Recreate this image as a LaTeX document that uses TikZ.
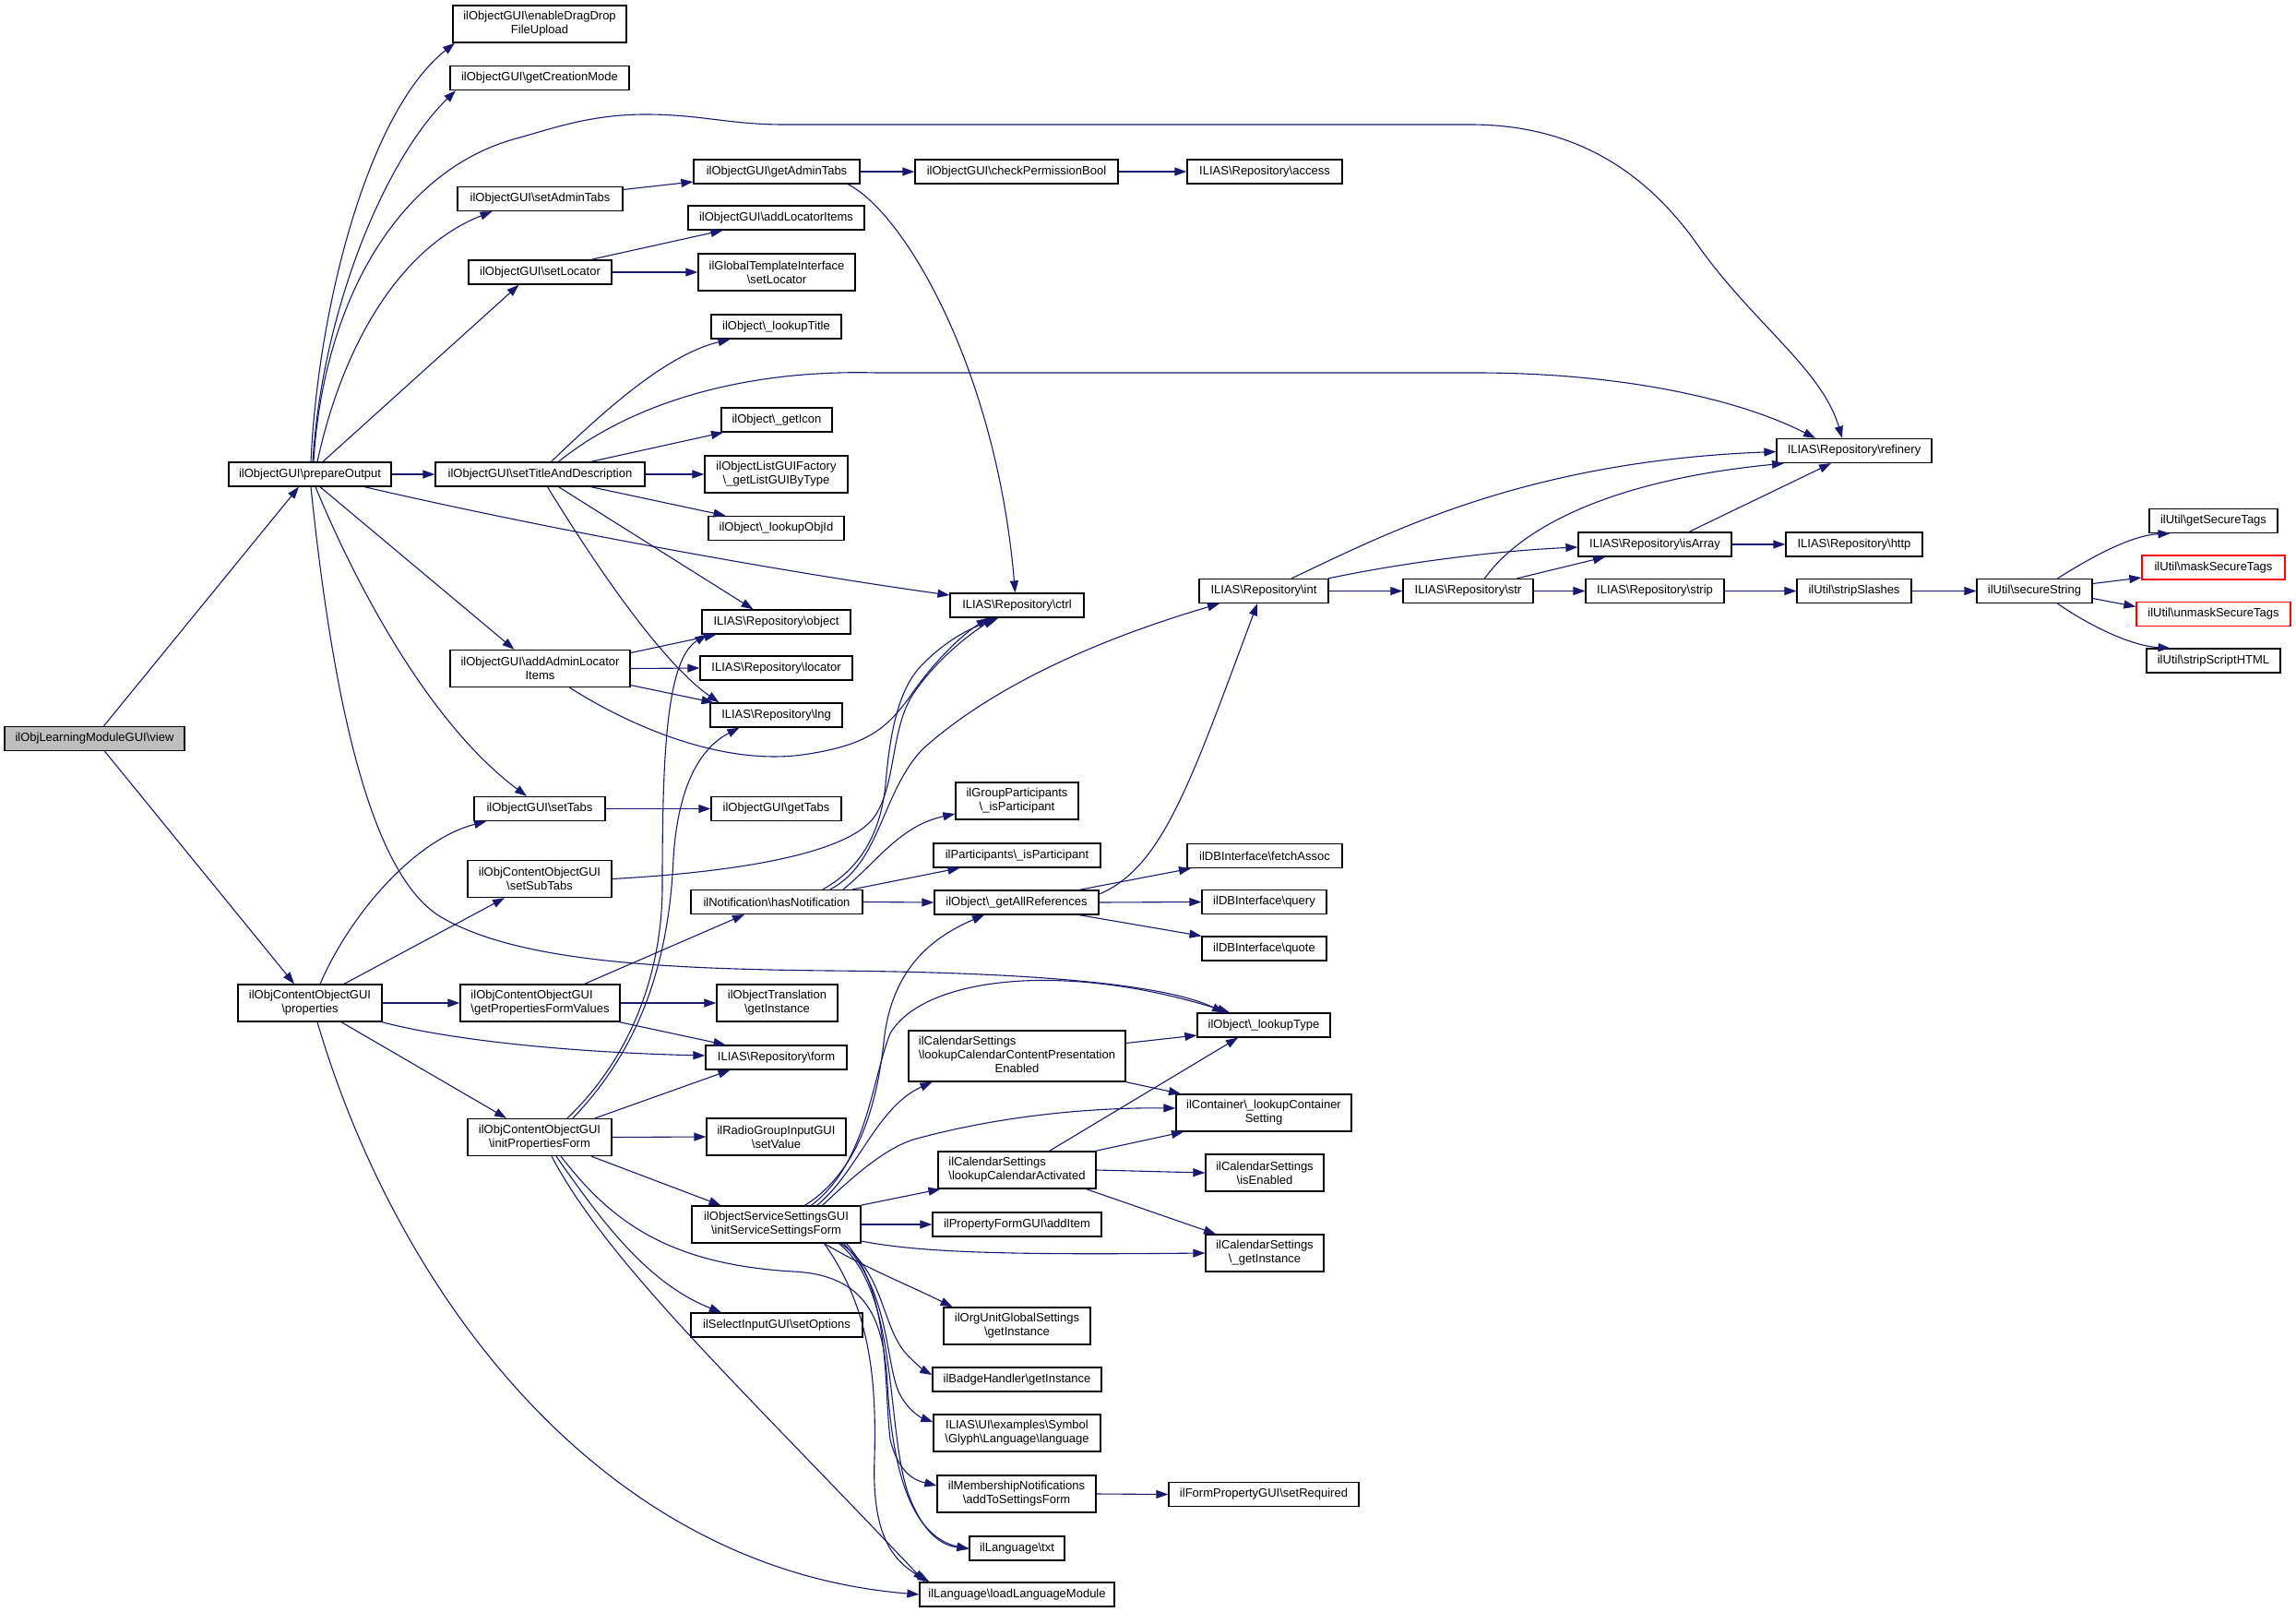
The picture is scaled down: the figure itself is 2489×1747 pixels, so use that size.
\documentclass[tikz,border=0pt]{standalone}
\usepackage{fontspec}
\setmainfont{Liberation Sans}
\usetikzlibrary{arrows.meta}
\definecolor{edgeblue}{HTML}{191970}
\definecolor{rootgray}{HTML}{BFBFBF}
\newcommand{\Bk}{\textbackslash{}}
\newcommand{\fnode}[7][]{\node[fbox,minimum width=#5pt,minimum height=#6pt,#1] (#2) at (#3,#4) {#7};}
\tikzset{
  fbox/.style={draw=black,line width=1.3pt,fill=white,inner xsep=3pt,inner ysep=1pt,align=center,font=\fontsize{13}{15}\selectfont},
  rootbox/.style={fill=rootgray},
  redbox/.style={draw=red},
  calls/.style={draw=edgeblue,line width=1.1pt,-{Triangle[length=13pt,width=9pt]}}
}
\begin{document}
\begin{tikzpicture}[x=1pt,y=-1pt]
\useasboundingbox (0,0) rectangle (2489,1747);
\fill[white] (0,0) rectangle (2489,1747);
% nodes
\fnode[rootbox]{view}{102.5}{800.5}{195}{26}{ilObjLearningModuleGUI\Bk view}
\fnode{prep}{336}{514}{176}{26}{ilObjectGUI\Bk prepareOutput}
\fnode{props}{336}{1087}{156}{40}{ilObjContentObjectGUI\\\Bk properties}
\fnode{dnd}{585}{26}{188}{40}{ilObjectGUI\Bk enableDragDrop\\FileUpload}
\fnode{gcm}{585}{84.5}{194}{26}{ilObjectGUI\Bk getCreationMode}
\fnode{sat}{585.5}{215.5}{179}{26}{ilObjectGUI\Bk setAdminTabs}
\fnode{sloc}{585.5}{295}{155}{26}{ilObjectGUI\Bk setLocator}
\fnode{std}{585.5}{514}{227}{26}{ilObjectGUI\Bk setTitleAndDescription}
\fnode{aali}{585.5}{724.5}{195}{40}{ilObjectGUI\Bk addAdminLocator\\Items}
\fnode{stabs}{585}{876.5}{142}{26}{ilObjectGUI\Bk setTabs}
\fnode{ssub}{585}{952.5}{156}{40}{ilObjContentObjectGUI\\\Bk setSubTabs}
\fnode[align=left]{gpfv}{585.5}{1087}{173}{40}{ilObjContentObjectGUI\\\Bk getPropertiesFormValues}
\fnode{ipf}{585}{1232.5}{156}{40}{ilObjContentObjectGUI\\\Bk initPropertiesForm}
\fnode{gat}{842}{186}{180}{26}{ilObjectGUI\Bk getAdminTabs}
\fnode{ali}{841.5}{236}{191}{26}{ilObjectGUI\Bk addLocatorItems}
\fnode{gtsl}{842}{295}{170}{40}{ilGlobalTemplateInterface\\\Bk setLocator}
\fnode{ltit}{841.5}{354}{141}{26}{ilObject\Bk\_lookupTitle}
\fnode{gicon}{842}{455}{120}{26}{ilObject\Bk\_getIcon}
\fnode{glgui}{841.5}{514}{155}{40}{ilObjectListGUIFactory\\\Bk\_getListGUIByType}
\fnode{loid}{841.5}{572.5}{147}{26}{ilObject\Bk\_lookupObjId}
\fnode{obj}{841.5}{674}{161}{26}{ILIAS\Bk Repository\Bk object}
\fnode{loc}{841.5}{724}{165}{26}{ILIAS\Bk Repository\Bk locator}
\fnode{lng}{841.5}{775}{143}{26}{ILIAS\Bk Repository\Bk lng}
\fnode{gtabs}{841.5}{876.5}{141}{26}{ilObjectGUI\Bk getTabs}
\fnode{hasn}{842}{977.5}{186}{26}{ilNotification\Bk hasNotification}
\fnode{otgi}{842.5}{1087}{131}{40}{ilObjectTranslation\\\Bk getInstance}
\fnode{form}{841.5}{1146}{153}{26}{ILIAS\Bk Repository\Bk form}
\fnode{rgsv}{841.5}{1232}{151}{40}{ilRadioGroupInputGUI\\\Bk setValue}
\fnode{issf}{841.5}{1327}{183}{40}{ilObjectServiceSettingsGUI\\\Bk initServiceSettingsForm}
\fnode{siso}{842}{1436}{186}{26}{ilSelectInputGUI\Bk setOptions}
\fnode{cpb}{1102}{186}{220}{26}{ilObjectGUI\Bk checkPermissionBool}
\fnode{ctrl}{1102.5}{656}{145}{26}{ILIAS\Bk Repository\Bk ctrl}
\fnode{gpip}{1102.5}{868}{133}{40}{ilGroupParticipants\\\Bk\_isParticipant}
\fnode{pip}{1102.5}{927}{181}{26}{ilParticipants\Bk\_isParticipant}
\fnode{gar}{1102}{978}{178}{26}{ilObject\Bk\_getAllReferences}
\fnode{lccp}{1102.5}{1144.5}{235}{55}{\begin{tabular}{@{}l@{}}ilCalendarSettings\\\Bk lookupCalendarContentPresentation\\\multicolumn{1}{@{}c@{}}{Enabled}\end{tabular}}
\fnode[align=left]{lca}{1102.5}{1268}{171}{40}{ilCalendarSettings\\\Bk lookupCalendarActivated}
\fnode{additem}{1102.5}{1327}{183}{26}{ilPropertyFormGUI\Bk addItem}
\fnode{ougs}{1102.5}{1437}{159}{40}{ilOrgUnitGlobalSettings\\\Bk getInstance}
\fnode{badge}{1102.5}{1495}{183}{26}{ilBadgeHandler\Bk getInstance}
\fnode{uiex}{1102.5}{1553}{181}{40}{ILIAS\Bk UI\Bk examples\Bk Symbol\\\Bk Glyph\Bk Language\Bk language}
\fnode{memb}{1102}{1619}{172}{40}{ilMembershipNotifications\\\Bk addToSettingsForm}
\fnode{txt}{1102.5}{1678}{103}{26}{ilLanguage\Bk txt}
\fnode{llm}{1102.5}{1728}{211}{26}{ilLanguage\Bk loadLanguageModule}
\fnode{acc}{1371}{186}{168}{26}{ILIAS\Bk Repository\Bk access}
\fnode{ref}{2010}{488.5}{168}{26}{ILIAS\Bk Repository\Bk refinery}
\fnode{int}{1370}{640.5}{140}{26}{ILIAS\Bk Repository\Bk int}
\fnode{fa}{1371}{927.5}{168}{26}{ilDBInterface\Bk fetchAssoc}
\fnode{query}{1370.5}{977.5}{135}{26}{ilDBInterface\Bk query}
\fnode{quote}{1370.5}{1028}{135}{26}{ilDBInterface\Bk quote}
\fnode{ltype}{1370}{1111}{144}{26}{ilObject\Bk\_lookupType}
\fnode{lcs}{1370}{1206}{190}{40}{ilContainer\Bk\_lookupContainer\\Setting}
\fnode{isen}{1371}{1271}{128}{40}{ilCalendarSettings\\\Bk isEnabled}
\fnode{csgi}{1371}{1358}{128}{40}{ilCalendarSettings\\\Bk\_getInstance}
\fnode{sreq}{1370}{1619.5}{206}{26}{ilFormPropertyGUI\Bk setRequired}
\fnode{isarr}{1794}{590}{166}{26}{ILIAS\Bk Repository\Bk isArray}
\fnode{http}{2010}{590}{148}{26}{ILIAS\Bk Repository\Bk http}
\fnode{str}{1591.5}{640.5}{141}{26}{ILIAS\Bk Repository\Bk str}
\fnode{strip}{1794}{640.5}{150}{26}{ILIAS\Bk Repository\Bk strip}
\fnode{sslash}{2010}{640.5}{124}{26}{ilUtil\Bk stripSlashes}
\fnode{sstr}{2205.5}{640.5}{125}{26}{ilUtil\Bk secureString}
\fnode{gst}{2399.5}{564.5}{139}{26}{ilUtil\Bk getSecureTags}
\fnode[redbox]{mst}{2399.5}{615}{155}{26}{ilUtil\Bk maskSecureTags}
\fnode[redbox]{umst}{2399.5}{665.5}{167}{26}{ilUtil\Bk unmaskSecureTags}
\fnode{ssh}{2399.5}{716}{145}{26}{ilUtil\Bk stripScriptHTML}
% ---------------- edges
\draw[calls] ([xshift=10]view.north) -- ([xshift=-12]prep.south);
\draw[calls] ([xshift=11]view.south) -- ([xshift=-17]props.north);
\draw[calls] ([xshift=1]prep.north) .. controls (345,330) and (400,120) .. ([xshift=-92]dnd.south);
\draw[calls] ([xshift=3]prep.north) .. controls (350,330) and (420,170) .. ([xshift=-91]gcm.south);
\draw[calls] ([xshift=4]prep.north) .. controls (350,330) and (430,185) .. (560,150) .. controls (600,139) and (640,124) .. (700,124) .. controls (760,124) and (790,135) .. (850,135) -- (1594,135) .. controls (1700,135) and (1780,180) .. (1840,265) .. controls (1900,350) and (1975,400) .. ([xshift=-13]ref.north);
\draw[calls] ([xshift=8]prep.north) .. controls (370,380) and (430,270) .. ([xshift=-52]sat.south);
\draw[calls] ([xshift=14]prep.north) -- ([xshift=-23]sloc.south);
\draw[calls] (prep.east) -- (std.west);
\draw[calls] ([xshift=59]prep.south) .. controls (600,575) and (850,620) .. ([yshift=11]ctrl.west);
\draw[calls] ([xshift=11]prep.south) -- ([xshift=-28]aali.north);
\draw[calls] ([xshift=6]prep.south) .. controls (380,620) and (460,780) .. ([xshift=-14]stabs.north);
\draw[calls] ([xshift=1]prep.south) .. controls (360,750) and (400,950) .. (480,995) .. controls (560,1040) and (700,1050) .. (900,1052) .. controls (1150,1054) and (1270,1070) .. ([xshift=-43]ltype.north);
\draw[calls] ([yshift=10]sat.east) -- ([yshift=-11]gat.west);
\draw[calls] (gat.east) -- (cpb.west);
\draw[calls] (cpb.east) -- (acc.west);
\draw[calls] ([xshift=77]gat.south) .. controls (980,230) and (1080,400) .. ([xshift=-2]ctrl.north);
\draw[calls] ([xshift=55]sloc.north) -- ([xshift=-58]ali.south);
\draw[calls] (sloc.east) -- (gtsl.west);
\draw[calls] ([xshift=12]std.north) .. controls (650,450) and (720,385) .. ([xshift=-50]ltit.south);
\draw[calls] ([xshift=20]std.north) .. controls (680,440) and (800,400) .. (950,404) -- (1600,404) .. controls (1750,404) and (1880,430) .. ([xshift=-42]ref.north);
\draw[calls] ([xshift=55]std.north) -- ([xshift=-58]gicon.south);
\draw[calls] (std.east) -- (glgui.west);
\draw[calls] ([xshift=55]std.south) -- ([xshift=-55]loid.north);
\draw[calls] ([xshift=20]std.south) -- ([xshift=-25]obj.north);
\draw[calls] ([xshift=8]std.south) .. controls (650,620) and (720,720) .. ([xshift=-62]lng.north);
\draw[calls] ([yshift=17]aali.east) -- ([xshift=-65]obj.south);
\draw[calls] (aali.east) -- (loc.west);
\draw[calls] ([yshift=-18]aali.east) -- ([xshift=-68]lng.north);
\draw[calls] ([xshift=32]aali.south) .. controls (680,785) and (780,830) .. (870,818) .. controls (940,808) and (960,790) .. (985,757) .. controls (1010,720) and (1040,690) .. ([xshift=-31]ctrl.south);
\draw[calls] (stabs.east) -- (gtabs.west);
\draw[calls] (ssub.east) .. controls (800,945) and (920,925) .. (948,885) .. controls (972,850) and (965,790) .. (990,752) .. controls (1015,715) and (1050,688) .. ([xshift=-24]ctrl.south);
\draw[calls] ([xshift=50]hasn.north) .. controls (935,940) and (955,900) .. (960,850) .. controls (965,790) and (975,745) .. (1000,720) .. controls (1030,690) and (1055,680) .. ([xshift=-20]ctrl.south);
\draw[calls] ([xshift=58]hasn.north) .. controls (955,935) and (955,860) .. (1000,812) .. controls (1080,740) and (1200,690) .. ([xshift=-48]int.south);
\draw[calls] ([xshift=72]hasn.north) .. controls (950,935) and (975,895) .. ([yshift=-14]gpip.west);
\draw[calls] ([xshift=82]hasn.north) -- ([xshift=-62]pip.south);
\draw[calls] (hasn.east) -- (gar.west);
\draw[calls] ([xshift=68]gar.north) -- ([xshift=-80]fa.south);
\draw[calls] (gar.east) -- (query.west);
\draw[calls] ([xshift=68]gar.south) -- ([xshift=-68]quote.north);
\draw[calls] ([yshift=9]gar.east) .. controls (1260,940) and (1290,850) .. ([xshift=-7]int.south);
\draw[calls] ([xshift=30]int.north) .. controls (1500,580) and (1650,500) .. ([yshift=-1]ref.west);
\draw[calls] ([xshift=70]int.north) .. controls (1520,610) and (1620,597) .. ([yshift=-3]isarr.west);
\draw[calls] (int.east) -- (str.west);
\draw[calls] ([xshift=18]str.north) .. controls (1650,570) and (1750,520) .. ([xshift=-76]ref.south);
\draw[calls] ([xshift=53]str.north) -- ([xshift=-54]isarr.south);
\draw[calls] (str.east) -- (strip.west);
\draw[calls] ([xshift=37]isarr.north) -- ([xshift=-25]ref.south);
\draw[calls] (isarr.east) -- (http.west);
\draw[calls] (strip.east) -- (sslash.west);
\draw[calls] (sslash.east) -- (sstr.west);
\draw[calls] ([xshift=25]sstr.north) .. controls (2265,605) and (2310,580) .. ([xshift=-47]gst.south);
\draw[calls] ([yshift=8]sstr.east) -- ([yshift=-11]mst.west);
\draw[calls] ([yshift=-8]sstr.east) -- ([yshift=8]umst.west);
\draw[calls] ([xshift=25]sstr.south) .. controls (2265,678) and (2310,700) .. ([xshift=-47]ssh.north);
\draw[calls] ([xshift=11]props.north) .. controls (380,990) and (450,910) .. ([xshift=-58]stabs.south);
\draw[calls] ([xshift=37]props.north) -- ([xshift=-38]ssub.south);
\draw[calls] (props.east) -- (gpfv.west);
\draw[calls] ([xshift=78]props.south) .. controls (480,1125) and (600,1140) .. ([yshift=2]form.west);
\draw[calls] ([xshift=34]props.south) -- ([xshift=-36]ipf.north);
\draw[calls] ([xshift=8]props.south) .. controls (430,1400) and (650,1700) .. (llm.west);
\draw[calls] ([xshift=48]gpfv.north) -- ([xshift=-35]hasn.south);
\draw[calls] (gpfv.east) -- (otgi.west);
\draw[calls] ([xshift=86]gpfv.south) -- ([xshift=-55]form.north);
\draw[calls] ([xshift=30]ipf.north) .. controls (680,1150) and (718,1060) .. (718,960) .. controls (718,820) and (722,715) .. ([xshift=-75]obj.south);
\draw[calls] ([xshift=36]ipf.north) .. controls (690,1140) and (725,1050) .. (730,930) .. controls (735,850) and (760,810) .. ([xshift=-40]lng.south);
\draw[calls] ([xshift=60]ipf.north) -- ([xshift=-50]form.south);
\draw[calls] (ipf.east) -- (rgsv.west);
\draw[calls] ([xshift=56]ipf.south) -- ([xshift=-60]issf.north);
\draw[calls] ([xshift=18]ipf.south) .. controls (650,1320) and (700,1390) .. ([xshift=-60]siso.north);
\draw[calls] ([xshift=23]ipf.south) .. controls (660,1320) and (720,1370) .. (860,1378) .. controls (940,1382) and (958,1430) .. (962,1500) .. controls (968,1600) and (990,1665) .. ([yshift=-1]txt.west);
\draw[calls] ([xshift=13]ipf.south) .. controls (660,1370) and (800,1500) .. ([xshift=-100]llm.north);
\draw[calls] ([xshift=31]issf.north) .. controls (930,1270) and (950,1200) .. (958,1130) .. controls (965,1060) and (1000,1020) .. ([xshift=-35]gar.south);
\draw[calls] ([xshift=38]issf.north) .. controls (940,1260) and (945,1170) .. (965,1120) .. controls (1000,1060) and (1150,1040) .. ([xshift=-37]ltype.north);
\draw[calls] ([xshift=44]issf.north) .. controls (930,1270) and (950,1200) .. ([xshift=-92]lccp.south);
\draw[calls] ([xshift=50]issf.north) .. controls (930,1270) and (960,1245) .. (990,1235) .. controls (1080,1210) and (1180,1200) .. ([yshift=5]lcs.west);
\draw[calls] ([xshift=91]issf.north) -- ([xshift=-83]lca.south);
\draw[calls] (issf.east) -- (additem.west);
\draw[calls] ([yshift=-18]issf.east) .. controls (1000,1358) and (1100,1360) .. (csgi.west);
\draw[calls] ([xshift=52]issf.south) .. controls (940,1375) and (990,1395) .. ([xshift=-70]ougs.north);
\draw[calls] ([xshift=70]issf.south) .. controls (960,1380) and (955,1440) .. (985,1470) .. controls (995,1480) and (1003,1486) .. ([yshift=5]badge.west);
\draw[calls] ([xshift=73]issf.south) .. controls (965,1400) and (960,1480) .. (975,1510) .. controls (985,1530) and (1000,1537) .. ([yshift=12]uiex.west);
\draw[calls] ([xshift=76]issf.south) .. controls (965,1400) and (958,1500) .. (965,1560) .. controls (975,1600) and (995,1605) .. ([yshift=9]memb.west);
\draw[calls] ([xshift=68]issf.south) .. controls (975,1400) and (960,1550) .. (985,1620) .. controls (1000,1660) and (1020,1675) .. (txt.west);
\draw[calls] ([xshift=52]issf.south) .. controls (945,1420) and (950,1500) .. (948,1580) .. controls (945,1660) and (965,1690) .. ([xshift=-95]llm.north);
\draw[calls] ([yshift=14]lccp.east) -- ([yshift=-11]ltype.west);
\draw[calls] (lccp.south east) -- ([xshift=-90]lcs.north);
\draw[calls] ([xshift=35]lca.north) -- ([xshift=-28]ltype.south);
\draw[calls] ([xshift=85]lca.north) -- ([xshift=-87]lcs.south);
\draw[calls] (lca.east) -- (isen.west);
\draw[calls] ([xshift=75]lca.south) -- ([xshift=-53]csgi.north);
\draw[calls] (memb.east) -- (sreq.west);
\end{tikzpicture}
\end{document}
